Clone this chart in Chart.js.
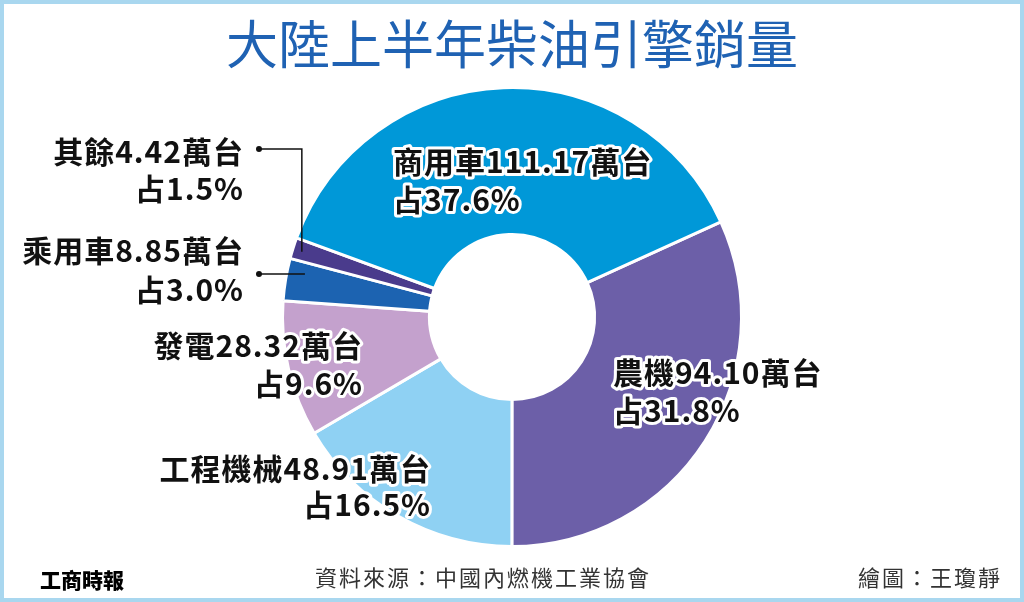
<!DOCTYPE html>
<html>
<head>
<meta charset="utf-8">
<script src="https://cdn.jsdelivr.net/npm/chart.js@4/dist/chart.umd.min.js"></script>
<style>
  html, body { margin: 0; padding: 0; background: #fff; }
  #wrap { position: relative; width: 1024px; height: 602px; }
</style>
</head>
<body>
<div id="wrap"><canvas id="myChart" width="1024" height="602"></canvas></div>
<script>
'use strict';

// data (order = clockwise from the 農機 slice)
const categories = ['農機', '工程機械', '發電', '乘用車', '其餘', '商用車'];
const units = [94.10, 48.91, 28.32, 8.85, 4.42, 111.17];
const shares = ['31.8%', '16.5%', '9.6%', '3.0%', '1.5%', '37.6%'];
const colors = ['#6c5fa8', '#8fd1f3', '#c4a1cd', '#1c63b1', '#4a3b8c', '#0098d8'];

// where each label sits: [x, line1 y, line2 y, align]
const labelSpots = [
    [613, 373, 411, 'left'],
    [431, 469, 505, 'right'],
    [363, 346, 384, 'right'],
    [244, 251, 290, 'right'],
    [244, 152, 189, 'right'],
    [393, 162, 200, 'left']
];

const FONT = '"Noto Sans CJK TC", "Noto Sans", sans-serif';

const decor = {
    id: 'decor',
    beforeDraw(chart) {
        const c = chart.ctx;
        c.save();
        c.fillStyle = '#fff';
        c.fillRect(0, 0, chart.width, chart.height);
        c.restore();
    },
    afterDraw(chart) {
        const c = chart.ctx;
        const arcs = chart.getDatasetMeta(0).data;
        c.save();

        // frame
        c.strokeStyle = '#a9d7ef';
        c.lineWidth = 4;
        c.strokeRect(2, 2, chart.width - 4, chart.height - 4);

        // title
        c.fillStyle = '#1f62b3';
        c.font = '400 52px ' + FONT;
        c.textAlign = 'center';
        c.textBaseline = 'middle';
        c.fillText('大陸上半年柴油引擎銷量', 512, 44);

        // leader lines for the two thin slices
        c.strokeStyle = '#111';
        c.fillStyle = '#111';
        c.lineWidth = 1.5;
        // 其餘
        let a = arcs[4];
        let mid = (a.startAngle + a.endAngle) / 2;
        let r = a.outerRadius - 6;
        let ex = a.x + Math.cos(mid) * r, ey = a.y + Math.sin(mid) * r;
        c.beginPath();
        c.moveTo(259, 149); c.lineTo(ex + 3, 149); c.lineTo(ex + 3, ey + 2);
        c.stroke();
        c.beginPath(); c.arc(259, 149, 3, 0, Math.PI * 2); c.fill();
        // 乘用車
        a = arcs[3];
        r = a.outerRadius - 18;
        const dy = 274;
        ex = a.x - Math.sqrt(r * r - (dy - a.y) * (dy - a.y));
        c.beginPath();
        c.moveTo(259, dy); c.lineTo(ex, dy);
        c.stroke();
        c.beginPath(); c.arc(259, dy, 3, 0, Math.PI * 2); c.fill();

        // slice labels
        c.font = 'bold 30px ' + FONT;
        c.letterSpacing = '1px';
        c.textBaseline = 'middle';
        c.lineJoin = 'round';
        categories.forEach((name, i) => {
            const [x, y1, y2, align] = labelSpots[i];
            const lines = [name + units[i].toFixed(2) + '萬台', '占' + shares[i]];
            c.textAlign = align;
            [y1, y2].forEach((y, k) => {
                c.strokeStyle = '#fff';
                c.lineWidth = 6;
                c.strokeText(lines[k], x, y);
                c.fillStyle = '#111';
                c.fillText(lines[k], x, y);
            });
        });

        // footer
        c.textBaseline = 'middle';
        c.textAlign = 'left';
        c.fillStyle = '#000';
        c.letterSpacing = '0px';
        c.font = '900 21px ' + FONT;
        c.fillText('工商時報', 40, 580);
        c.fillStyle = '#333';
        c.font = '22px ' + FONT;
        c.letterSpacing = '2px';
        c.fillText('資料來源：中國內燃機工業協會', 315, 578);
        c.textAlign = 'right';
        c.fillText('繪圖：王瓊靜', 1002, 578);
        c.restore();
    }
};

const ctx = document.getElementById('myChart');

new Chart(ctx, {
    type: 'doughnut',
    data: {
        labels: categories,
        datasets: [{
            data: units,
            backgroundColor: colors,
            borderColor: '#fff',
            borderWidth: 3
        }]
    },
    options: {
        responsive: false,
        animation: false,
        rotation: 65.5,
        cutout: '36%',
        layout: { padding: { top: 86, bottom: 54 } },
        plugins: {
            legend: { display: false },
            tooltip: { enabled: false }
        }
    },
    plugins: [decor]
});
</script>
</body>
</html>
